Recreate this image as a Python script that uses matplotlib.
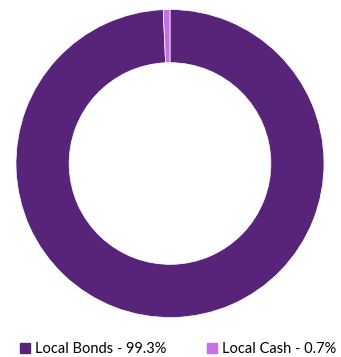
import matplotlib.pyplot as plt
from matplotlib.patches import Patch

labels = ['Local Bonds', 'Local Cash']
values = [99.3, 0.7]
colors = ['#57247a', '#c96ee8']

plt.rcParams['font.family'] = ['Lato', 'DejaVu Sans']

W, H = 341, 357
cx, cy, R = 170, 163.5, 154.0

fig = plt.figure(figsize=(W / 100, H / 100), dpi=100)
ax = fig.add_axes([0, 0, 1, 1])
ax.pie(values, colors=colors, startangle=90, counterclock=False,
       radius=1.0, wedgeprops=dict(width=0.345, edgecolor='white', linewidth=0.5))
ax.set_aspect('auto')
ax.set_xlim(-cx / R, (W - cx) / R)
ax.set_ylim(-(H - cy) / R, cy / R)
ax.axis('off')

handles = [Patch(color=c) for c in colors]
leg_labels = [f'{l} - {v}%' for l, v in zip(labels, values)]
fig.legend(handles, leg_labels, loc='center', ncol=2, frameon=False,
           bbox_to_anchor=(178 / W, 1 - 349 / H), fontsize=10.5, handlelength=0.7,
           handleheight=0.7, handletextpad=0.3, columnspacing=2.8)

fig.savefig('out.png', dpi=100)
